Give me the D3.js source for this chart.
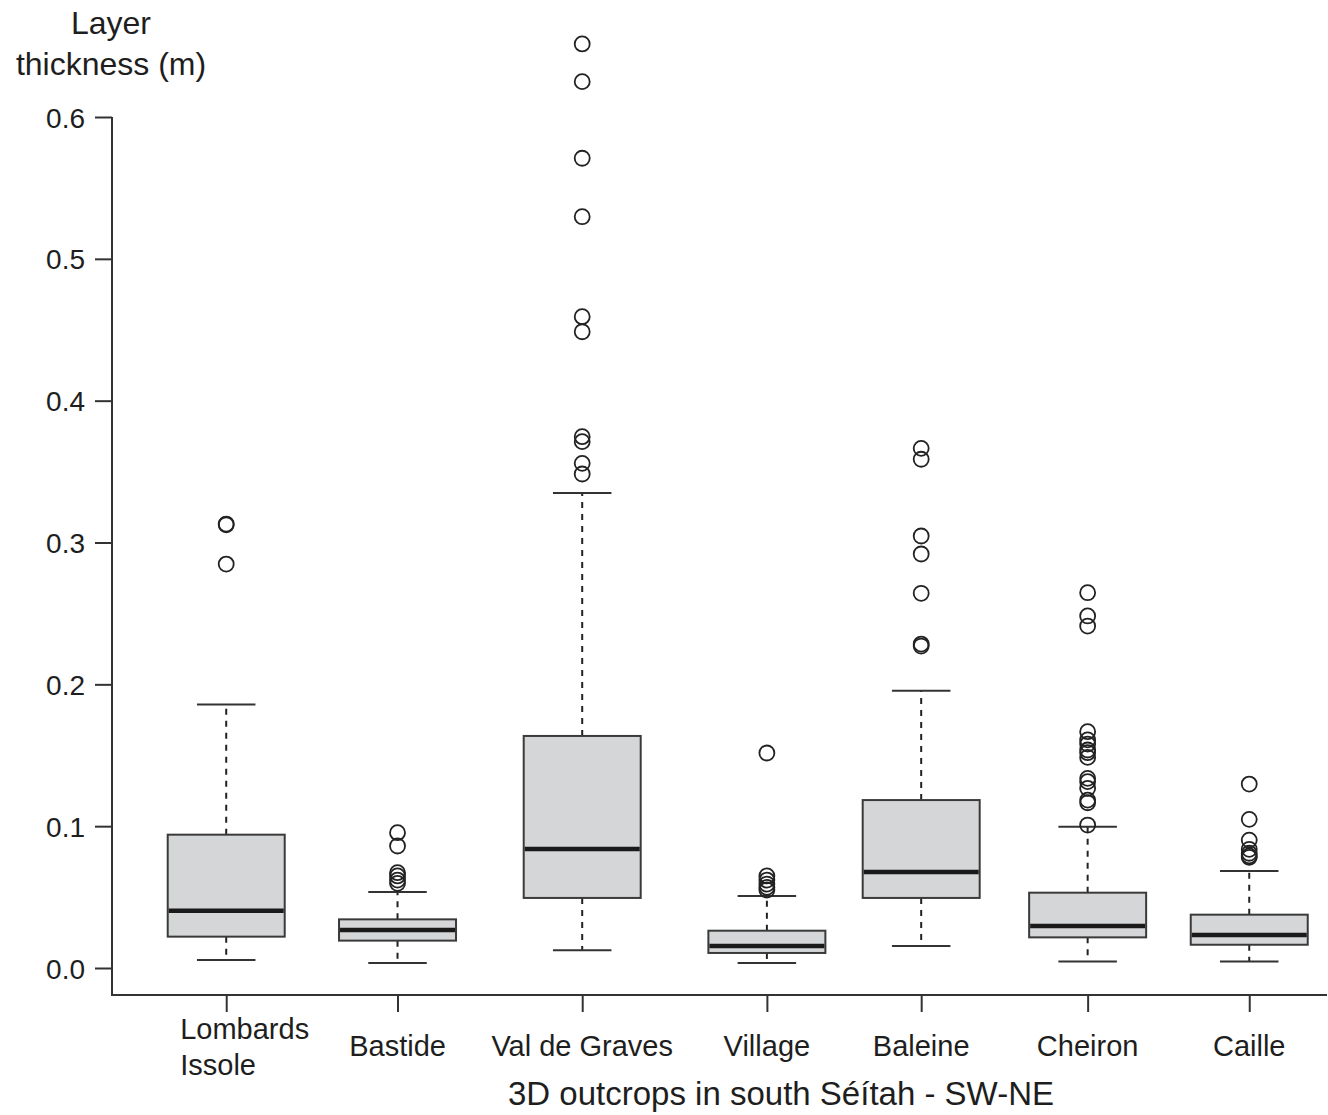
<!DOCTYPE html>
<html>
<head>
<meta charset="utf-8">
<script src="https://cdn.jsdelivr.net/npm/d3@7"></script>
<style>
  body { margin: 0; background: #fff; }
  text { font-family: "Liberation Sans", Arial, sans-serif; fill: #1e1e1e; }
</style>
</head>
<body>
<svg id="main_svg" width="1328" height="1115"></svg>
<script>
// outcrops, ordered SW -> NE
const sites = ["Lombards\nIssole", "Bastide", "Val de Graves", "Village", "Baleine", "Cheiron", "Caille"];
// relative position of each outcrop along the transect
const sitePos = [0.94, 2.35, 3.87, 5.39, 6.66, 8.03, 9.36];

// boxplot statistics (m)
const whiskerLow  = [0.0056, 0.0035, 0.0125, 0.0035, 0.0155, 0.0045, 0.0045];
const q1          = [0.0221, 0.0193, 0.0494, 0.0106, 0.0494, 0.0216, 0.0164];
const median      = [0.0404, 0.0268, 0.0839, 0.0155, 0.0677, 0.0296, 0.0233];
const q3          = [0.0940, 0.0343, 0.1636, 0.0263, 0.1184, 0.0531, 0.0376];
const whiskerHigh = [0.1857, 0.0536, 0.3349, 0.0508, 0.1955, 0.0996, 0.0684];
const outliers = [
    [0.3130, 0.3125, 0.2848],
    [0.0954, 0.0860, 0.0672, 0.0649, 0.0620, 0.0597],
    [0.6515, 0.6249, 0.5709, 0.5297, 0.4592, 0.4486, 0.3746, 0.3711, 0.3558, 0.3483],
    [0.1516, 0.0649, 0.0620, 0.0592, 0.0569, 0.0550],
    [0.3664, 0.3587, 0.3046, 0.2919, 0.2642, 0.2284, 0.2270],
    [0.2646, 0.2482, 0.2411, 0.1666, 0.1608, 0.1579, 0.1537, 0.1518, 0.1485, 0.1337, 0.1314, 0.1267, 0.1184, 0.1165, 0.1008],
    [0.1297, 0.1048, 0.0902, 0.0837, 0.0809, 0.0790, 0.0780]
];
const yTicks = [0, 0.1, 0.2, 0.3, 0.4, 0.5, 0.6];

let svg = d3.select("#main_svg");

const left = 112, right = 1327, axisY = 995;
const x = d3.scaleLinear().domain([0, 10]).range([left, right]);
const y = d3.scaleLinear().domain([0, 0.6]).range([968, 117]);
const boxW = 117;

// y axis
let yAxis = svg.append("g")
    .attr("transform", "translate(" + left + ",0)")
    .call(d3.axisLeft(y).tickValues(yTicks).tickFormat(d3.format(".1f")).tickSize(17).tickPadding(10));
yAxis.select(".domain").remove();
yAxis.selectAll("line").attr("stroke", "#333").attr("stroke-width", 2);
yAxis.selectAll("text").style("font-size", "28px").attr("fill", "#1e1e1e").attr("dy", "0.36em");

// x axis
let xAxis = svg.append("g")
    .attr("transform", "translate(0," + axisY + ")")
    .call(d3.axisBottom(x).tickValues(sitePos).tickFormat("").tickSize(17));
xAxis.select(".domain").remove();
xAxis.selectAll("line").attr("stroke", "#333").attr("stroke-width", 2);

// L frame
svg.append("path")
    .attr("d", "M" + left + "," + y(0.6) + "V" + axisY + "H" + right)
    .attr("fill", "none")
    .attr("stroke", "#333")
    .attr("stroke-width", 2);

// boxes
sites.forEach(function (name, i) {
    let cx = x(sitePos[i]);
    let g = svg.append("g");

    // dashed whiskers
    g.append("line")
        .attr("x1", cx).attr("x2", cx)
        .attr("y1", y(q3[i])).attr("y2", y(whiskerHigh[i]))
        .attr("stroke", "#222").attr("stroke-width", 2).attr("stroke-dasharray", "6,6");
    g.append("line")
        .attr("x1", cx).attr("x2", cx)
        .attr("y1", y(q1[i])).attr("y2", y(whiskerLow[i]))
        .attr("stroke", "#222").attr("stroke-width", 2).attr("stroke-dasharray", "6,6");

    // caps
    [whiskerLow[i], whiskerHigh[i]].forEach(function (v) {
        g.append("line")
            .attr("x1", cx - boxW / 4).attr("x2", cx + boxW / 4)
            .attr("y1", y(v)).attr("y2", y(v))
            .attr("stroke", "#333").attr("stroke-width", 2);
    });

    g.append("rect")
        .attr("x", cx - boxW / 2)
        .attr("y", y(q3[i]))
        .attr("width", boxW)
        .attr("height", y(q1[i]) - y(q3[i]))
        .attr("fill", "#d5d6d8")
        .attr("stroke", "#3a3a3a")
        .attr("stroke-width", 2);

    g.append("line")
        .attr("x1", cx - boxW / 2 + 1).attr("x2", cx + boxW / 2 - 1)
        .attr("y1", y(median[i])).attr("y2", y(median[i]))
        .attr("stroke", "#1a1a1a").attr("stroke-width", 4.5);

    g.selectAll("circle")
        .data(outliers[i])
        .enter()
        .append("circle")
        .attr("cx", cx)
        .attr("cy", function (d) { return y(d); })
        .attr("r", 7.5)
        .attr("fill", "none")
        .attr("stroke", "#222")
        .attr("stroke-width", 1.8);

    // category label
    let lines = name.split("\n");
    if (lines.length > 1) {
        let t = svg.append("text")
            .attr("x", cx - 46)
            .attr("y", 1039)
            .style("font-size", "29px");
        lines.forEach(function (l, k) {
            t.append("tspan").attr("x", cx - 46).attr("dy", k === 0 ? 0 : 36).text(l);
        });
    } else {
        svg.append("text")
            .attr("x", cx)
            .attr("y", 1056)
            .attr("text-anchor", "middle")
            .style("font-size", "29px")
            .text(name);
    }
});

// titles
svg.append("text")
    .attr("x", 111).attr("y", 34)
    .attr("text-anchor", "middle")
    .style("font-size", "32px")
    .text("Layer");
svg.append("text")
    .attr("x", 111).attr("y", 75)
    .attr("text-anchor", "middle")
    .style("font-size", "32px")
    .text("thickness (m)");
svg.append("text")
    .attr("x", 781).attr("y", 1105)
    .attr("text-anchor", "middle")
    .style("font-size", "33px")
    .text("3D outcrops in south Séítah - SW-NE");
</script>
</body>
</html>
